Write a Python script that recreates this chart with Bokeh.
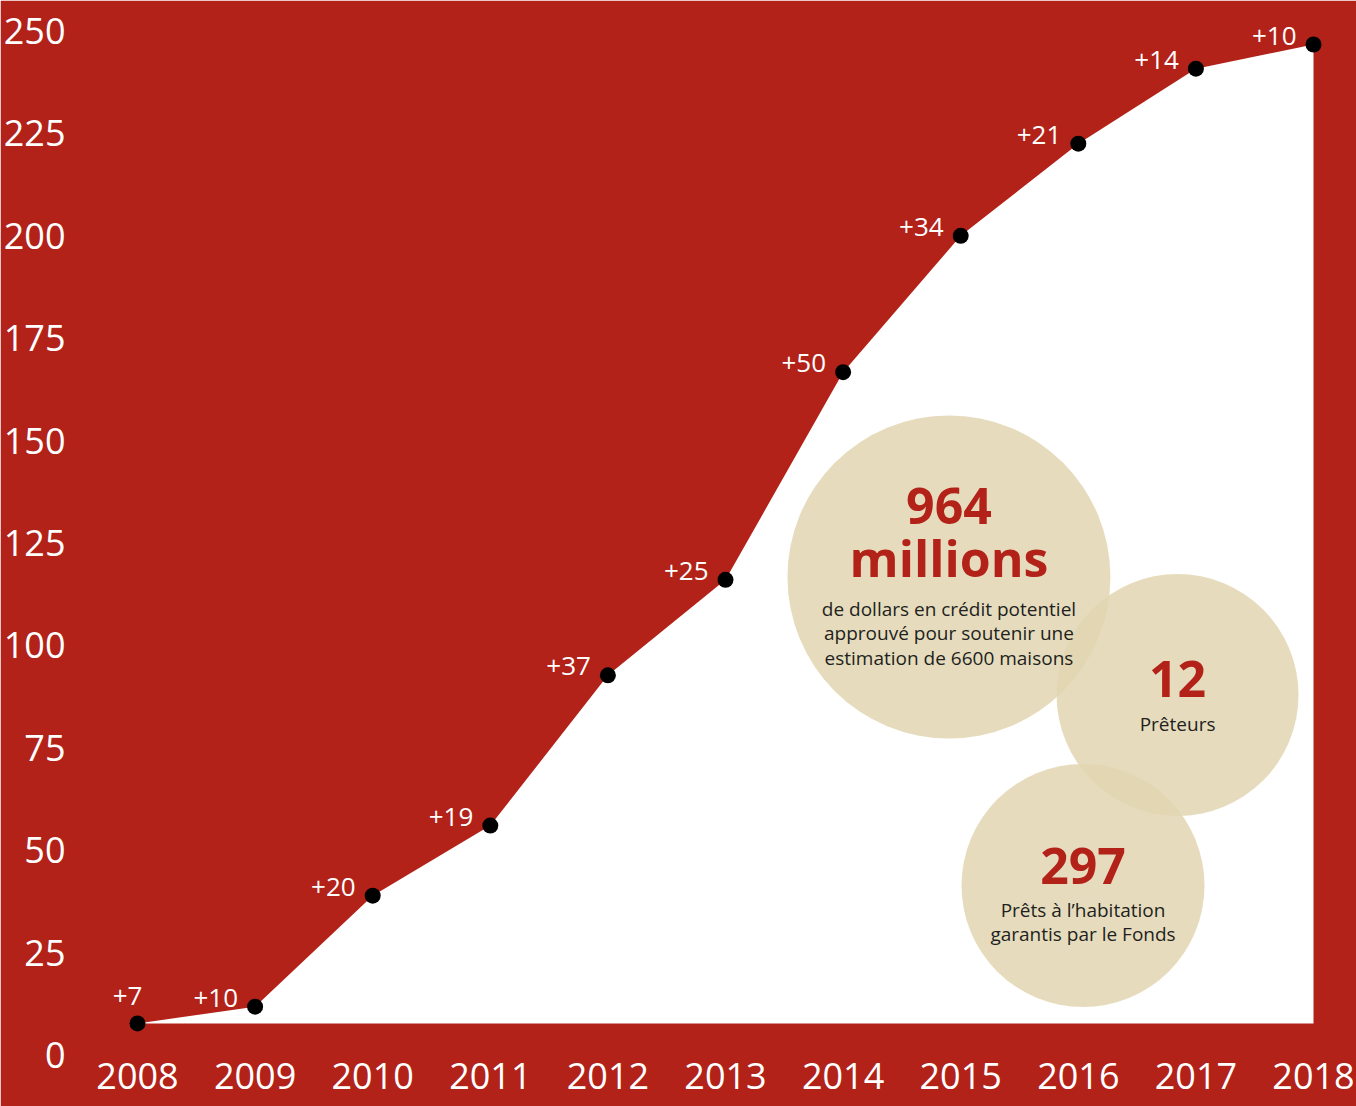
from bokeh.plotting import figure
from bokeh.models import ColumnDataSource, Range1d, FixedTicker
from bokeh.core.properties import value
from bokeh.embed import file_html
from bokeh.resources import INLINE

# ---- data ----
years = [2008, 2009, 2010, 2011, 2012, 2013, 2014, 2015, 2016, 2017, 2018]
cumulative = [7.7, 11.8, 38.9, 56.0, 92.7, 116.0, 166.7, 200.0, 222.5, 240.8, 246.7]
increments = ["+7", "+10", "+20", "+19", "+37", "+25", "+50", "+34", "+21", "+14", "+10"]
y_ticks = [0, 25, 50, 75, 100, 125, 150, 175, 200, 225, 250]

RED = "#B22219"
BEIGE = "#E2D6B1"
DARK = "#231F20"
FONT = "Open Sans"

p = figure(width=1356, height=1106, output_backend="svg", toolbar_location=None,
           x_range=Range1d(2007.5493, 2018.3656), y_range=Range1d(-0.37, 256.96),
           min_border_left=80, min_border_right=0, min_border_top=2, min_border_bottom=50)
p.background_fill_color = RED
p.border_fill_color = RED
p.outline_line_color = RED
p.outline_line_width = 3
p.grid.visible = False

for ax in (p.xaxis[0], p.yaxis[0]):
    ax.axis_line_color = None
    ax.major_tick_line_color = None
    ax.minor_tick_line_color = None
    ax.major_label_text_color = "white"
    ax.major_label_text_font = FONT
    ax.major_label_text_font_size = "36px"
p.xaxis.ticker = FixedTicker(ticks=years)
p.yaxis.ticker = FixedTicker(ticks=y_ticks)
p.xaxis.major_label_standoff = 0
p.yaxis.major_label_standoff = 13

# white area under the curve
p.varea(x=years, y1=[cumulative[0]] * len(years), y2=cumulative, fill_color="white")

# bubbles
bubbles = ColumnDataSource(dict(x=[2014.90, 2016.844, 2016.04],
                                y=[116.70, 87.89, 41.38],
                                size=[323, 242, 243]))
p.scatter(x="x", y="y", size="size", source=bubbles, marker="circle",
          fill_color=BEIGE, fill_alpha=0.85, line_color=None)

# points
src = ColumnDataSource(dict(x=years, y=cumulative))
p.scatter(x="x", y="y", source=src, size=16, fill_color="black", line_color=None)

# increment labels
lab_src = ColumnDataSource(dict(x=years[1:], y=cumulative[1:], lab=increments[1:]))
p.text(x="x", y="y", text="lab", source=lab_src, text_align="right",
       text_baseline="middle", x_offset=-17, y_offset=-9,
       text_color="white", text_font=value(FONT), text_font_size="26px")
p.text(x=[years[0]], y=[cumulative[0]], text=[increments[0]], text_align="center",
       text_baseline="middle", x_offset=-10, y_offset=-27,
       text_color="white", text_font=value(FONT), text_font_size="26px")

def bubble_text(x, y, lines):
    for txt, dy, size, bold, col in lines:
        p.text(x=[x], y=[y], text=[txt], text_align="center", text_baseline="middle",
               y_offset=dy, text_color=col, text_font=value(FONT),
               text_font_size=size, text_font_style="bold" if bold else "normal")

bubble_text(2014.90, 116.70, [
    ("964", -70.9, "50px", True, RED),
    ("millions", -18.9, "50px", True, RED),
    ("de dollars en crédit potentiel", 31.7, "19px", False, DARK),
    ("approuvé pour soutenir une", 56.4, "19px", False, DARK),
    ("estimation de 6600 maisons", 80.7, "19px", False, DARK),
])
bubble_text(2016.844, 87.89, [
    ("12", -15.6, "50px", True, RED),
    ("Prêteurs", 29.4, "19px", False, DARK),
])
bubble_text(2016.04, 41.38, [
    ("297", -19.4, "50px", True, RED),
    ("Prêts à l’habitation", 24.5, "19px", False, DARK),
    ("garantis par le Fonds", 48.9, "19px", False, DARK),
])

open("out.html", "w").write(file_html(p, INLINE))
